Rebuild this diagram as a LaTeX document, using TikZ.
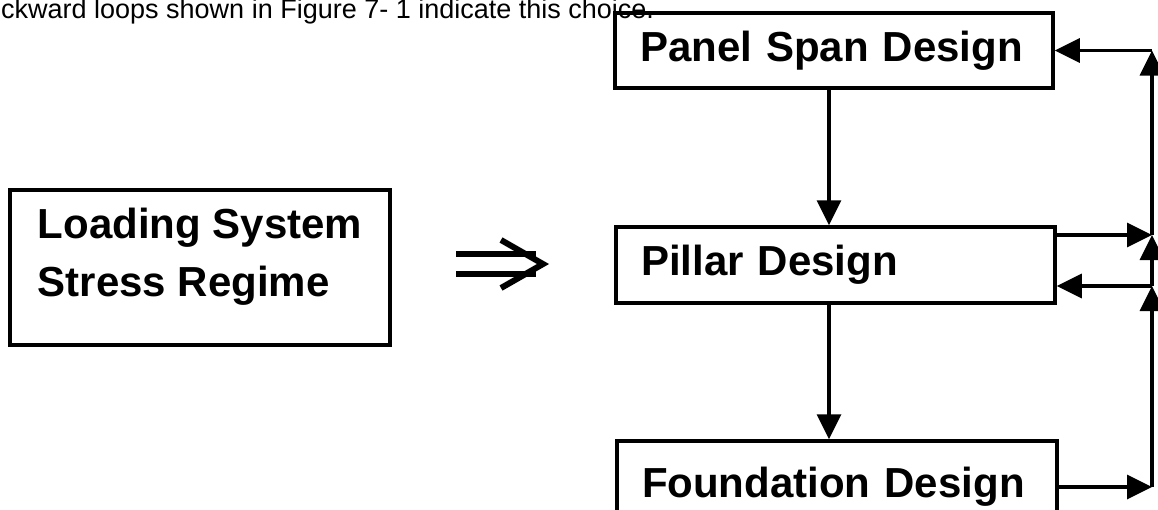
\documentclass[tikz,border=0pt]{standalone}
\usepackage{fontspec}
\setmainfont{Liberation Sans}
\usetikzlibrary{arrows.meta}
\begin{document}
\begin{tikzpicture}[x=1pt,y=-1pt,
  box/.style={draw, line width=3.5pt, rectangle, inner xsep=25pt, inner ysep=0pt,
    font=\fontsize{42}{58}\selectfont\bfseries, text height=30pt, text depth=9pt},
  arr/.style={line width=3.5pt, -{Triangle[length=25pt,width=24pt]}}]
\useasboundingbox (0,0) rectangle (1158,509);

% running text above the figure
\node[anchor=base west, inner sep=0pt, font=\fontsize{27}{32}\selectfont] (caption) at (1,18)
  {ckward loops shown in Figure 7- 1 indicate this choice.};

% left block: two lines set from the top of the frame
\node[box, anchor=north west, outer sep=0pt, minimum width=380pt, text height=48pt, text depth=107pt] (load) at (10,190)
  {\begin{tabular}[t]{@{}l@{}}Loading System\\Stress Regime\end{tabular}};

% implication arrow
\coordinate (imp) at (456,264);
\draw[line width=6pt] (imp) ++(0,-10) -- ++(80,0);
\draw[line width=6pt] (imp) ++(0,10) -- ++(80,0);
\draw[line width=6pt, line join=miter] (imp) ++(45,-24) -- ++(42,24) -- ++(-42,24);

% design chain
\node[box, text width=388pt, minimum height=75pt] (panel) at (834,50.5) {Panel Span Design};
\node[box, text width=389pt, minimum height=76pt] (pillar) at (835.5,265) {Pillar Design};
\node[box, text width=390pt, minimum height=92pt] (found) at (837,487) {Foundation Design};

\coordinate (vx) at (829,0);
\draw[arr] (panel.south -| vx) -- (pillar.north -| vx);
\draw[arr] (pillar.south -| vx) -- (found.north -| vx);

% feedback loops on the right
\coordinate (rail) at (1152,0);
\coordinate (pout) at ([yshift=30pt]pillar.east);
\coordinate (pin) at ([yshift=-21pt]pillar.east);
\draw[arr] (found.east) -- (found.east -| rail);
\draw[arr] (found.east -| rail) -- (pin -| rail);
\draw[arr] (pin -| rail) -- (pin);
\draw[arr] (pout) -- (pout -| rail);
\draw[arr] (pin -| rail) -- (pout -| rail);
\draw[arr] (pout -| rail) -- (panel.east -| rail);
\draw[arr] (panel.east -| rail) -- (panel.east);
\end{tikzpicture}
\end{document}
